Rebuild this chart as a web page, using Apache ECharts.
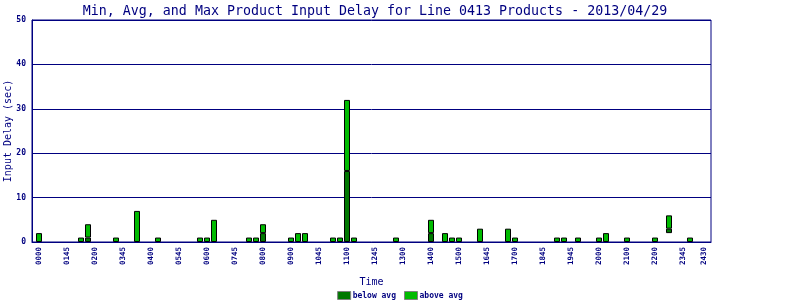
<!DOCTYPE html>
<html>
<head>
<meta charset="utf-8">
<script src="https://cdn.jsdelivr.net/npm/echarts@6/dist/echarts.min.js"></script>
<style>html,body{margin:0;padding:0;background:#fff}#c{width:800px;height:300px}</style>
</head>
<body>
<div id="c"></div>
<script>
// 15-minute slots, from -00:15 to 24:00
const slotCount = 98;
// Slots (HHMM) that have data, with min / avg / max input delay (sec)
const barTimes = ['0000','0130','0145','0245','0330','0415','0545','0600','0615','0730','0745','0800',
  '0900','0915','0930','1030','1045','1100','1115','1245','1400','1430','1445','1500','1545','1645',
  '1700','1830','1845','1915','2000','2015','2100','2200','2230','2315'];
const minVals = [0,0,0,0,0,0,0,0,0,0,0,0, 0,0,0,0,0,0,0,0,0,0,0,0,0,0, 0,0,0,0,0,0,0,0,2,0];
const avgVals = [0,0,1,0,0,0,0,0,0,0,0,2, 0,0,0,0,0,16,0,0,2,0,0,0,0,0, 0,0,0,0,0,0,0,0,3,0];
const maxVals = [2,1,4,1,7,1,1,1,5,1,1,4, 1,2,2,1,1,32,1,1,5,2,1,1,3,3, 1,1,1,1,1,2,1,1,6,1];
// Tick labels as printed on the reference, at slot indices
const tickIdx = [1,5,9,13,17,21,25,29,33,37,41,45,49,53,57,61,65,69,73,77,81,85,89,93,96];
const tickLabels = ['0000','0145','0200','0345','0400','0545','0600','0745','0800','0900','1045','1100',
  '1245','1300','1400','1500','1645','1700','1845','1945','2000','2100','2200','2345','2430'];
const yTicks = [0,10,20,30,40,50];

function slotName(k){
  const m = (k-1)*15;
  const sign = m < 0 ? '-' : '';
  const a = Math.abs(m);
  return sign + String(Math.floor(a/60)).padStart(2,'0') + String(a%60).padStart(2,'0');
}
const categories = [];
for (let k = 0; k < slotCount; k++) categories.push(slotName(k));

const baseData = categories.map(() => '-');
const belowData = categories.map(() => '-');
const aboveData = categories.map(() => '-');
barTimes.forEach((t, i) => {
  const k = categories.indexOf(t);
  baseData[k] = minVals[i] > 0 ? minVals[i] : '-';
  belowData[k] = avgVals[i] - minVals[i] > 0 ? avgVals[i] - minVals[i] : '-';
  aboveData[k] = maxVals[i] - avgVals[i] > 0 ? maxVals[i] - avgVals[i] : '-';
});
const labelMap = {};
tickIdx.forEach((k, i) => { labelMap[k] = tickLabels[i]; });

const NAVY = '#000080';
const FONT = 'DejaVu Sans Mono';
const chart = echarts.init(document.getElementById('c'), null, {renderer: 'canvas'});
chart.setOption({
  animation: false,
  title: {
    text: 'Min, Avg, and Max Product Input Delay for Line 0413 Products - 2013/04/29',
    left: 370, textAlign: 'center', top: 0,
    textStyle: {color: NAVY, fontFamily: FONT, fontSize: 13.3, fontWeight: 'normal'}
  },
  legend: {
    data: [
      {name: 'below avg', itemStyle: {borderColor: '#808080', borderWidth: 1}},
      {name: 'above avg', itemStyle: {borderColor: '#808080', borderWidth: 1}}
    ],
    left: 'center', top: 291, padding: 0,
    itemWidth: 13, itemHeight: 8, itemGap: 8,
    icon: 'rect',
    textStyle: {color: NAVY, fontFamily: FONT, fontSize: 8, fontWeight: 'bold', padding: [0,0,0,-3]}
  },
  grid: {left: 32, right: 89, top: 20, bottom: 58, show: true, borderColor: NAVY, borderWidth: 1,
         containLabel: false, outerBoundsMode: 'none'},
  xAxis: {
    type: 'category', data: categories, boundaryGap: false,
    name: 'Time', nameLocation: 'middle', nameGap: 35, nameMoveOverlap: false,
    nameTextStyle: {color: NAVY, fontFamily: FONT, fontSize: 10},
    axisLine: {lineStyle: {color: NAVY, width: 1}},
    axisTick: {show: false},
    splitLine: {show: false},
    axisLabel: {
      interval: (i) => labelMap[i] !== undefined,
      formatter: (v, i) => labelMap[i] !== undefined ? labelMap[i] : '',
      rotate: 90, margin: 5,
      color: NAVY, fontFamily: FONT, fontSize: 7.5, fontWeight: 'bold'
    }
  },
  yAxis: {
    type: 'value', min: yTicks[0], max: yTicks[yTicks.length-1], interval: 10,
    name: 'Input Delay (sec)', nameLocation: 'middle', nameGap: 19, nameMoveOverlap: false,
    nameTextStyle: {color: NAVY, fontFamily: FONT, fontSize: 10},
    axisLine: {show: true, lineStyle: {color: NAVY, width: 1}},
    axisTick: {show: false},
    splitLine: {show: true, lineStyle: {color: NAVY, width: 1, type: 'solid'}},
    axisLabel: {color: NAVY, fontFamily: FONT, fontSize: 8, fontWeight: 'bold', margin: 6}
  },
  series: [
    {name: 'base', type: 'bar', stack: 'd', data: baseData, barWidth: 6,
     itemStyle: {color: 'rgba(0,0,0,0)', borderWidth: 0}, silent: true},
    {name: 'below avg', type: 'bar', stack: 'd', data: belowData, barWidth: 6,
     itemStyle: {color: '#007800', borderColor: '#000', borderWidth: 1}},
    {name: 'above avg', type: 'bar', stack: 'd', data: aboveData, barWidth: 6,
     itemStyle: {color: '#00bb00', borderColor: '#000', borderWidth: 1}}
  ]
});
</script>
</body>
</html>
